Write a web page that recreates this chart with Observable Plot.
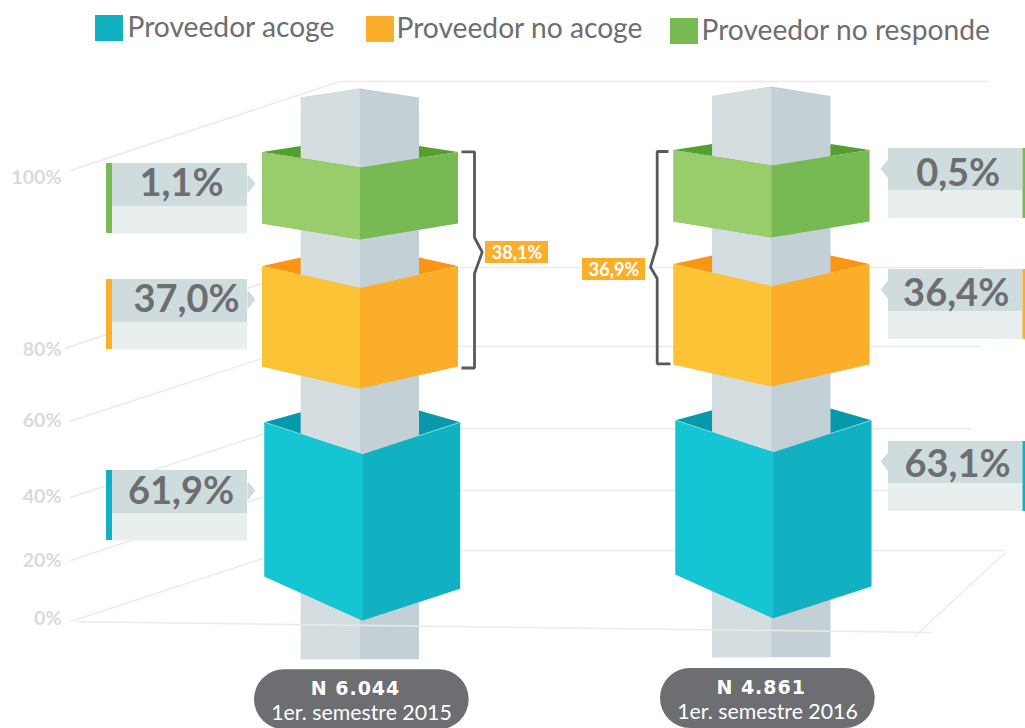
<!DOCTYPE html>
<html><head><meta charset="utf-8">
<style>
html,body{margin:0;padding:0;background:#fff;overflow:hidden}
svg{display:block}
.nlabel text{letter-spacing:1px}
</style>
<script src="https://cdn.jsdelivr.net/npm/d3@7"></script>
<script src="https://cdn.jsdelivr.net/npm/@observablehq/plot@0.6"></script>
</head><body><div id="chart"></div>
<script>
// ---- data ----
const categories = ["Proveedor acoge", "Proveedor no acoge", "Proveedor no responde"];
const periods = ["1er. semestre 2015", "1er. semestre 2016"];
const sampleLabels = ["N 6.044", "N 4.861"];
const values2015 = [61.9, 37.0, 1.1];
const values2016 = [63.1, 36.4, 0.5];
const totalsNoAcoge = [38.1, 36.9];
const axisLabels = ["100%", "80%", "60%", "40%", "20%", "0%"];

// ---- styles ----
const FONT = "Lato, 'Open Sans', sans-serif";
const GREY = "#6d6e71", GRID = "#e9ebeb", AXIS = "#d9dadb";
const palette = [
  {front:"#16c5d4", side:"#12b1c2", back:"#0898ab"},
  {front:"#fdc336", side:"#fbae29", back:"#fa9614"},
  {front:"#99cc6a", side:"#77b952", back:"#559f30"}
];
const pillarColors = ["#d4dde0", "#c3d0d5"];

// ---- pictogram layout (drawing space of the image, not data) ----
const columns = [
  {pL:300.3, pM:359.5, pR:418.5, pTop:97, pPeak:88, pBot:658.7},
  {pL:711.7, pM:771, pR:830, pTop:95.5, pPeak:86, pBot:656.7}
];
const blockShapes = [
  [
    {l:264, m:362, r:459.7, c:421.7, t:453.7, bl:576, br:588.3, bm:620, kl:411.7, kr:410},
    {l:261.7, m:359.5, r:457.5, c:265.5, t:287.5, bl:366, br:366, bm:388.3, kl:257, kr:257},
    {l:261.7, m:359.5, r:457.5, c:151.5, t:167, bl:223, br:223, bm:239, kl:145.5, kr:145.5}
  ],
  [
    {l:675, m:772.7, r:871, c:419.7, t:451.7, bl:574, br:586, bm:617.7, kl:409.7, kr:408},
    {l:673, m:771, r:869, c:263.5, t:285.7, bl:364, br:364, bm:386, kl:255, kr:255},
    {l:673, m:771, r:869, c:149.5, t:165, bl:221, br:221, bm:237, kl:143.5, kr:143.5}
  ]
];
const gridPaths = [
  [[70,170],[339,81],[989,81]],
  [[64,348],[310,267],[983,267]],
  [[69,421],[298,346],[981,346]],
  [[70,497],[280,428],[971,428]],
  [[70,560],[283,490],[1000,490]],
  [[70,621],[287,550],[1005,550]],
  [[1005,552],[914,636]]
];
const floorPath = [[78,621.3],[931,632]];
const axisPos = [[61,183.5],[61,355],[61,426],[61,502],[61,566],[61,624]];
const legendPos = [
  {x:95, y:15, tx:127, ty:36},
  {x:366, y:16, tx:396, ty:37.5},
  {x:670, y:18, tx:701, ty:39}
];
const calloutsLeft = [
  {y:470, tx:180.5, ty:503},
  {y:279, tx:186, ty:311.5},
  {y:163, tx:181, ty:195}
];
const calloutsRight = [
  {y:441, tx:957, ty:476},
  {y:269, tx:955.7, ty:305},
  {y:148, tx:957.7, ty:185}
];
const brackets = [
  [[461,151.3],[474,151.3],[474,237],[481.7,251.7],[474,273],[474,367.5],[461,367.5]],
  [[668,151],[656.7,151],[656.7,244],[650,266.7],[656.7,278],[656.7,363.3],[670,363.3]]
];
const totalBoxes = [
  {x1:485, x2:548, y1:241, y2:263},
  {x1:582, x2:645, y1:258, y2:280}
];
const pills = [
  {x1:254, x2:468.7, y1:669.3, nx:355, ny:694, px:361, py:719},
  {x1:660, x2:874.7, y1:668, nx:760.7, ny:693, px:767, py:718}
];

// ---- helpers ----
const fmt = v => v.toFixed(1).replace(".", ",") + "%";
const poly = (pts, fill) => Plot.line(pts, {x:d=>d[0], y:d=>d[1], fill, stroke:"none"});
const path = (pts, stroke, strokeWidth) => Plot.line(pts, {x:d=>d[0], y:d=>d[1], stroke, strokeWidth, fill:"none", strokeLinejoin:"miter", strokeLinecap:"butt"});
const box = (x1,x2,y1,y2,fill,extra={}) => Plot.rect([{x1,x2,y1,y2}], {x1:"x1",x2:"x2",y1:"y1",y2:"y2",fill,inset:0,...extra});
const label = (text,x,y,opts) => Plot.text([text], {text:d=>d, x:()=>x, y:()=>y, fontFamily:FONT, textAnchor:"middle", lineAnchor:"bottom", ...opts});

const marks = [];
// legend
categories.forEach((c,i)=>{
  const p = legendPos[i];
  marks.push(box(p.x,p.x+28,p.y,p.y+26,palette[i].side));
  marks.push(label(c,p.tx,p.ty,{textAnchor:"start",fontSize:28.2,fill:GREY}));
});
// grid
gridPaths.forEach(g=>marks.push(path(g,GRID,1.5)));
axisLabels.forEach((t,i)=>marks.push(label(t,axisPos[i][0],axisPos[i][1],{textAnchor:"end",fontSize:19.6,fontWeight:"bold",fill:AXIS})));

// columns: silhouette in the shaded colour, lit half on top so no seam shows
columns.forEach((c,ci)=>{
  blockShapes[ci].forEach((b,k)=>{
    marks.push(poly([[b.l,b.c],[c.pL,b.kl],[c.pR,b.kr],[b.r,b.c],[b.m,b.t]],palette[k].back));
  });
  marks.push(poly([[c.pL,c.pTop],[c.pM,c.pPeak],[c.pR,c.pTop],[c.pR,c.pBot],[c.pL,c.pBot]],pillarColors[1]));
  marks.push(poly([[c.pL,c.pTop],[c.pM,c.pPeak],[c.pM,c.pBot],[c.pL,c.pBot]],pillarColors[0]));
});
marks.push(path(floorPath,GRID,1.5));
columns.forEach((c,ci)=>{
  blockShapes[ci].forEach((b,k)=>{
    marks.push(poly([[b.l,b.c],[b.m,b.t],[b.r,b.c],[b.r,b.br],[b.m,b.bm],[b.l,b.bl]],palette[k].side));
    marks.push(poly([[b.l,b.c],[b.m,b.t],[b.m,b.bm],[b.l,b.bl]],palette[k].front));
  });
  // faint highlight on the blue block's rim, only where the inside is visible
  const b = blockShapes[ci][0];
  const rimL = b.c + (b.t - b.c) * (c.pL - b.l) / (b.m - b.l);
  const rimR = b.c + (b.t - b.c) * (b.r - c.pR) / (b.r - b.m);
  marks.push(path([[b.l,b.c],[c.pL,rimL]],"#8fe0e8",0.8));
  marks.push(path([[b.r,b.c],[c.pR,rimR]],"#8fe0e8",0.8));
});

// callouts
const TOPBOX="#cfdcdd", LOWBOX="#e9efef";
calloutsLeft.forEach((c,k)=>{
  marks.push(box(112,247,c.y,c.y+43,TOPBOX));
  marks.push(box(112,247,c.y+43,c.y+70.5,LOWBOX));
  marks.push(box(106,112,c.y,c.y+70,palette[k].side));
  marks.push(poly([[247,c.y+10.5],[255,c.y+20],[247,c.y+30]],TOPBOX));
  marks.push(label(fmt(values2015[k]),c.tx,c.ty,{fontSize:38,fontWeight:"bold",fill:GREY}));
});
calloutsRight.forEach((c,k)=>{
  marks.push(box(888,1022.5,c.y,c.y+42,TOPBOX));
  marks.push(box(888,1022.5,c.y+42,c.y+70,LOWBOX));
  marks.push(box(1022.5,1025,c.y,c.y+70,palette[k].side));
  marks.push(poly([[888,c.y+10.5],[880,c.y+20],[888,c.y+30]],TOPBOX));
  marks.push(label(fmt(values2016[k]),c.tx,c.ty,{fontSize:38,fontWeight:"bold",fill:GREY}));
});

// brackets and totals
brackets.forEach(b=>marks.push(path(b,"#58595b",2.8)));
totalBoxes.forEach((b,i)=>{
  marks.push(box(b.x1,b.x2,b.y1,b.y2,palette[1].side));
  marks.push(label(fmt(totalsNoAcoge[i]),(b.x1+b.x2)/2,b.y2-5,{fontSize:18,fontWeight:"bold",fill:"#fff"}));
});

// bottom pills
pills.forEach((p,i)=>{
  marks.push(box(p.x1,p.x2,p.y1,p.y1+60,GREY,{rx:30,ry:30}));
  marks.push(label(sampleLabels[i],p.nx,p.ny,{fontFamily:"'DejaVu Sans', sans-serif",fontSize:19,fontWeight:"bold",fill:"#fff",className:"nlabel"}));
  marks.push(label(periods[i],p.px,p.py,{fontSize:21.3,fill:"#fff"}));
});

const chart = Plot.plot({
  width:1025, height:728, margin:0,
  style:{background:"#fff", fontFamily:FONT},
  x:{domain:[0,1025], range:[0,1025], axis:null},
  y:{domain:[0,728], range:[0,728], axis:null},
  marks
});
document.getElementById("chart").append(chart);
</script></body></html>
